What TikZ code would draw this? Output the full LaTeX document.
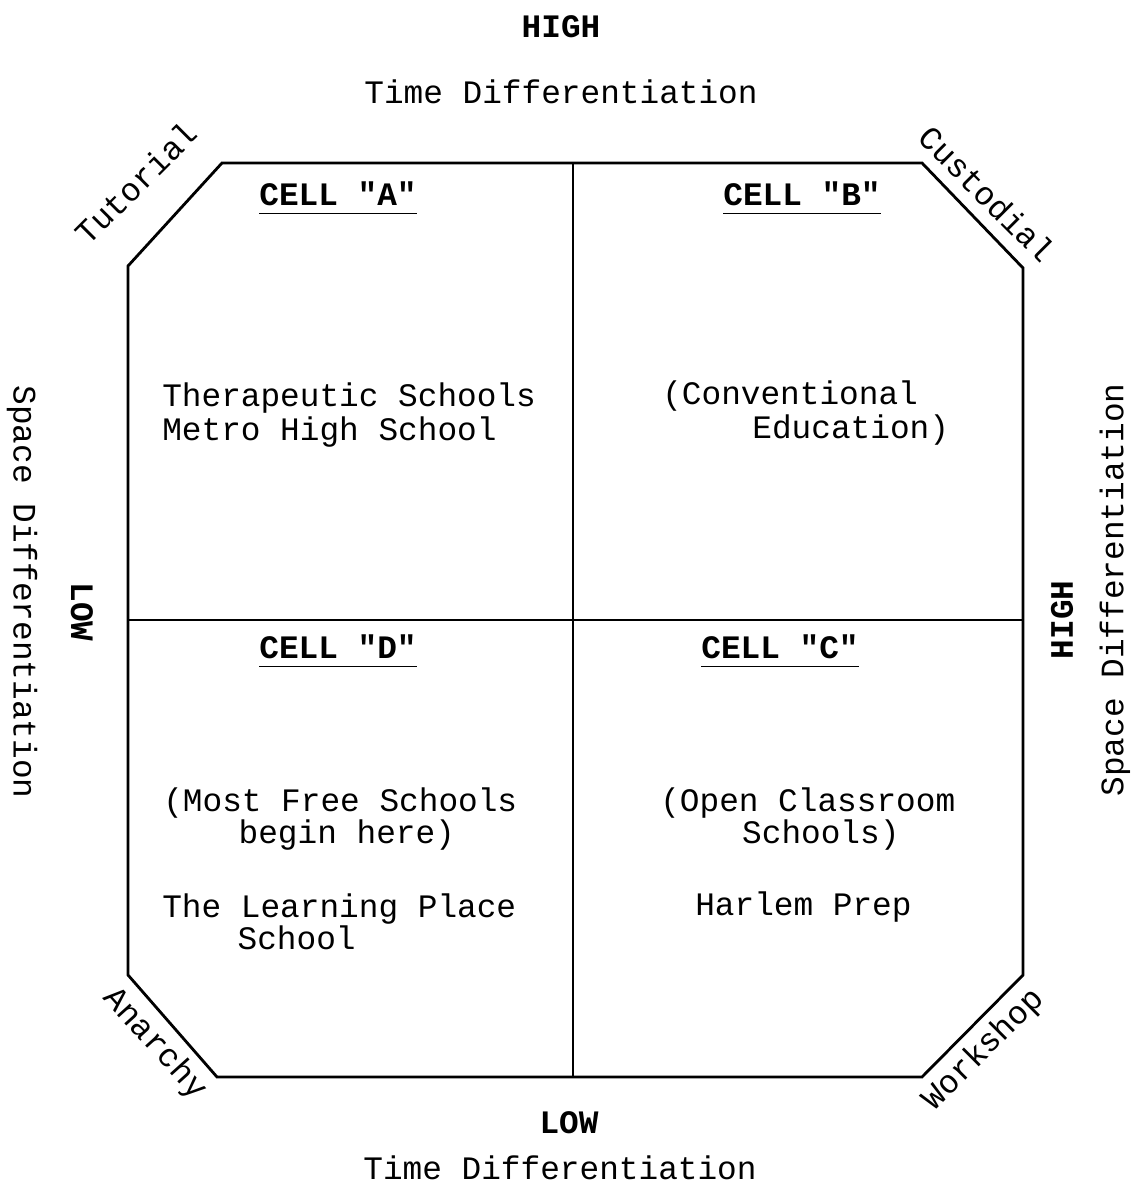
\documentclass[tikz,border=0pt]{standalone}
\usepackage{fontspec}
\setmainfont{Liberation Mono}[Ligatures=TeXOff]

\begin{document}
\begin{tikzpicture}[x=0.025cm, y=0.025cm,
    every node/.style={font=\fontsize{23.3}{26}\selectfont, inner sep=0pt},
    bold/.style={font=\fontsize{23.3}{26}\selectfont\bfseries},
    cell/.style={font=\fontsize{23.3}{26}\selectfont\bfseries, anchor=base, text depth=0.18cm},
    entry/.style={anchor=west, align=left},
    edge/.style={line width=2pt},
    divider/.style={line width=1.6pt},
    underbar/.style={line width=1.3pt}]

    \useasboundingbox (0,0) rectangle (1131,1188);

    % Corners of the octagon
    \coordinate (tl) at (222,1025);
    \coordinate (lt) at (128,922);
    \coordinate (lb) at (128,213);
    \coordinate (bl) at (217,111);
    \coordinate (br) at (922,111);
    \coordinate (rb) at (1023,213);
    \coordinate (rt) at (1023,920);
    \coordinate (tr) at (922,1025);
    \draw[edge] (tl) -- (tr) -- (rt) -- (rb) -- (br) -- (bl) -- (lb) -- (lt) -- cycle;

    % Split into four cells
    \coordinate (midtop) at (573,1025);
    \coordinate (midbot) at (573,111);
    \coordinate (midleft) at (128,568);
    \coordinate (midright) at (1023,568);
    \draw[divider] (midtop) -- (midbot);
    \draw[divider] (midleft) -- (midright);

    % Axis labels
    \node[bold] (timehigh) at (561,1161) {HIGH};
    \node (timetop) at (561,1096) {Time Differentiation};
    \node[bold] (timelow) at (569,65) {LOW};
    \node (timebot) at (560,20) {Time Differentiation};
    \node[rotate=-90] (spaceleft) at (22,596) {Space Differentiation};
    \node[bold, rotate=-90] (spacelow) at (82,576) {LOW};
    \node[rotate=90] (spaceright) at (1115,598) {Space Differentiation};
    \node[bold, rotate=90] (spacehigh) at (1062,568) {HIGH};

    % Corner labels
    \node[rotate=45] (tutorial) at (136,1005) {Tutorial};
    \node[rotate=-45] (custodial) at (987,994) {Custodial};
    \node[rotate=-48] (anarchy) at (155,144) {Anarchy};
    \node[rotate=45] (workshop) at (984,138) {Workshop};

    % Cell headings
    \node[cell] (cellA) at (338,982) {CELL "A"};
    \node[cell] (cellB) at (802,982) {CELL "B"};
    \node[cell] (cellD) at (338,529) {CELL "D"};
    \node[cell] (cellC) at (780,529) {CELL "C"};
    \foreach \c in {cellA,cellB,cellC,cellD}
        \draw[underbar] (\c.south west) -- (\c.south east);

    % Schools in each cell
    \node[entry, font=\fontsize{23.3}{24.2}\selectfont] (schoolsA) at (162,773)
        {Therapeutic Schools\\Metro High School};
    \node[entry, font=\fontsize{23.3}{24.2}\selectfont] (schoolsB) at (662,775)
        {(Conventional\\\hspace*{2.75em}Education)};
    \node[entry, font=\fontsize{23.3}{20.6}\selectfont] (freeD) at (163,369)
        {(Most Free Schools\\\hspace*{2.3em}begin here)};
    \node[entry, font=\fontsize{23.3}{21.3}\selectfont] (schoolsD) at (162,266)
        {The Learning Place\\\hspace*{2.3em}School};
    \node[entry, font=\fontsize{23.3}{20.6}\selectfont] (openC) at (660,369)
        {(Open Classroom\\\hspace*{2.5em}Schools)};
    \node[entry] (schoolsC) at (695,281) {Harlem Prep};
\end{tikzpicture}
\end{document}
